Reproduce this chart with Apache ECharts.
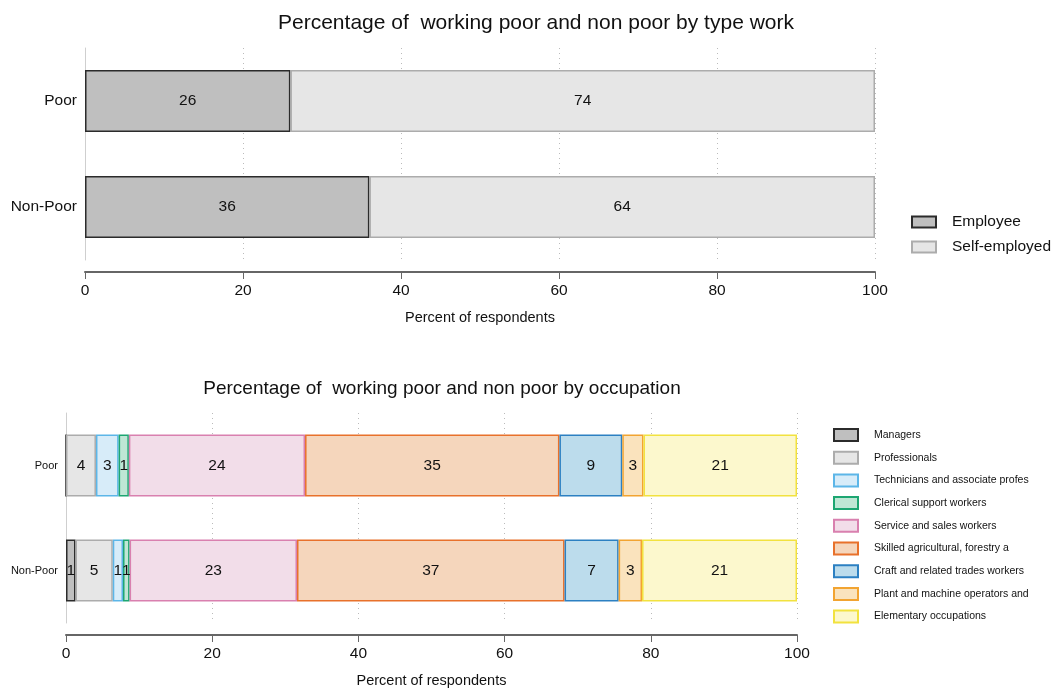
<!DOCTYPE html>
<html>
<head>
<meta charset="utf-8">
<script src="https://cdn.jsdelivr.net/npm/echarts@6/dist/echarts.min.js"></script>
<style>html,body{margin:0;padding:0;background:#fff;}#c{width:1052px;height:689px;}</style>
</head>
<body>
<div id="c"></div>
<script>
const groups = ['Poor', 'Non-Poor'];
const typeNames = ['Employee', 'Self-employed'];
const employee = [26, 36];
const selfEmployed = [74, 64];
const occupations = ['Managers', 'Professionals', 'Technicians and associate profes', 'Clerical support workers', 'Service and sales workers', 'Skilled agricultural, forestry a', 'Craft and related trades workers', 'Plant and machine operators and', 'Elementary occupations'];
const occPoor = [0, 4.1, 3.1, 1.4, 24.1, 34.8, 8.6, 2.9, 21.0];
const occNonPoor = [1.3, 5.1, 1.4, 0.9, 22.9, 36.6, 7.4, 3.2, 21.2];
const xTicks = [0, 20, 40, 60, 80, 100];

const FONT = '"Liberation Sans", Arial, sans-serif';
const typeFill = ['#bfbfbf', '#e6e6e6'];
const typeBorder = ['#2b2b2b', '#acacac'];
const occFill = ['#bfbfbf', '#e6e6e6', '#d7ecf9', '#bfe7d5', '#f2dde9', '#f5d6bc', '#bcdcec', '#fae3bd', '#fcf8cd'];
const occBorder = ['#2b2b2b', '#acacac', '#5cb6e8', '#1da672', '#d980af', '#e8712b', '#2c80c2', '#f2a431', '#f2e23f'];

const chart = echarts.init(document.getElementById('c'));

function xAxisCfg(idx) {
  return {
    type: 'value', gridIndex: idx, min: xTicks[0], max: xTicks[xTicks.length - 1], interval: 20,
    offset: 12,
    name: 'Percent of respondents', nameLocation: 'middle', nameGap: 38,
    nameTextStyle: { fontSize: 14.5, color: '#111', fontFamily: FONT },
    axisLine: { show: true, lineStyle: { color: '#666', width: 2 } },
    axisTick: { show: true, length: 7, lineStyle: { color: '#666' } },
    axisLabel: { fontSize: 15.5, color: '#111', margin: 11, fontFamily: FONT },
    splitLine: { show: true, lineStyle: { type: [1, 4], color: '#bbb', width: 1 } }
  };
}
function yAxisCfg(idx, fs) {
  return {
    type: 'category', gridIndex: idx, data: groups, inverse: true,
    axisLine: { show: true, lineStyle: { color: '#cfcfcf', width: 1 } },
    axisTick: { show: false },
    axisLabel: { fontSize: fs, color: '#111', margin: 8, fontFamily: FONT },
    splitLine: { show: false }
  };
}
function labelCfg(fs) {
  return {
    show: true, position: 'inside', fontSize: fs, color: '#111', fontFamily: FONT,
    formatter: p => (p.value > 0 ? String(Math.round(p.value)) : '')
  };
}

const series = [];
[employee, selfEmployed].forEach((vals, i) => {
  series.push({
    name: typeNames[i], type: 'bar', stack: 'type', xAxisIndex: 0, yAxisIndex: 0,
    data: vals, barWidth: 62,
    itemStyle: { color: typeFill[i], borderColor: typeBorder[i], borderWidth: 1.5 },
    label: labelCfg(15.5)
  });
});
occupations.forEach((name, i) => {
  series.push({
    name: name, type: 'bar', stack: 'occ', xAxisIndex: 1, yAxisIndex: 1,
    data: [occPoor[i], occNonPoor[i]], barWidth: 62,
    itemStyle: { color: occFill[i], borderColor: occBorder[i], borderWidth: 1.5 },
    label: labelCfg(15.5)
  });
});

chart.setOption({
  animation: false,
  textStyle: { fontFamily: FONT },
  title: [
    { text: 'Percentage of  working poor and non poor by type work', left: 531, top: 8, textAlign: 'center',
      textStyle: { fontSize: 21, fontWeight: 'normal', color: '#111', fontFamily: FONT } },
    { text: 'Percentage of  working poor and non poor by occupation', left: 437, top: 374, textAlign: 'center',
      textStyle: { fontSize: 19, fontWeight: 'normal', color: '#111', fontFamily: FONT } }
  ],
  legend: [
    { data: typeNames, orient: 'vertical', left: 906, top: 209, itemWidth: 24, itemHeight: 11, itemGap: 9,
      icon: 'rect', textStyle: { fontSize: 15.5, color: '#111', padding: [0, 0, 0, 11], fontFamily: FONT } },
    { data: occupations, orient: 'vertical', left: 828, top: 423, itemWidth: 24, itemHeight: 12, itemGap: 8.7,
      icon: 'rect', textStyle: { fontSize: 10.5, color: '#111', padding: [0, 0, 0, 11], fontFamily: FONT } }
  ],
  grid: [
    { left: 85, width: 790, top: 48, height: 212 },
    { left: 66, width: 731, top: 413, height: 213 }
  ],
  xAxis: [xAxisCfg(0), xAxisCfg(1)],
  yAxis: [yAxisCfg(0, 15.5), yAxisCfg(1, 11)],
  series: series
});
</script>
</body>
</html>
